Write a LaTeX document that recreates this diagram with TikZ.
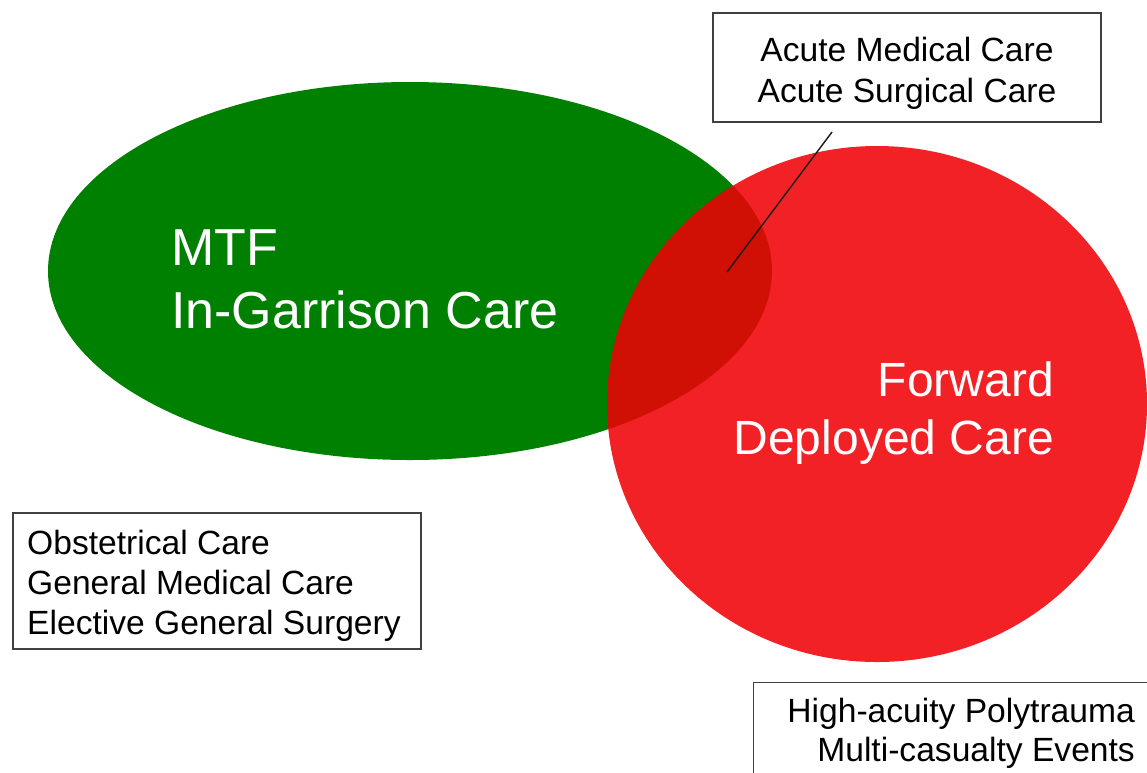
\documentclass[tikz,border=0pt]{standalone}
\usepackage{fontspec}
\setmainfont{Liberation Sans}
\usetikzlibrary{shapes.geometric}
\definecolor{mtfgreen}{RGB}{0,128,0}
\definecolor{fwdred}{RGB}{240,0,6}
\begin{document}
\begin{tikzpicture}[x=1pt,y=-1pt,
  region/.style={ellipse, inner sep=0pt, draw=none},
  bigtext/.style={text=white, inner sep=0pt},
  frame/.style={draw=black!75, line width=1.3pt, fill=white, inner sep=0pt},
  smalltext/.style={text=black, font=\fontsize{33.6}{40}\selectfont, inner sep=0pt},
  pointer/.style={draw=black!90, line width=1.4pt},
]
\useasboundingbox (0,0) rectangle (1147,772);
\clip (0,0) rectangle (1147,772);

% the two overlapping care regions
\node[region, fill=mtfgreen, minimum width=724pt, minimum height=378pt] (mtf) at (410,271) {};
\node[region, fill=fwdred, fill opacity=0.87, minimum width=540pt, minimum height=516pt] (fwd) at (877,404) {};

% region titles (anchor base = baseline of the last line)
\node[bigtext, font=\fontsize{52}{63}\selectfont, anchor=base west, align=left] (mtflabel) at (171,328) {MTF\\In-Garrison Care};
\node[bigtext, font=\fontsize{48}{58}\selectfont, anchor=base east, align=right] (fwdlabel) at (1054,454) {Forward\\Deployed Care};

% overlap callout
\node[frame, minimum width=388pt, minimum height=109pt] (acutebox) at (907,67.5) {};
\node[smalltext, font=\fontsize{33.6}{41}\selectfont, anchor=base, align=center] (acutetext) at (907,102) {Acute Medical Care\\Acute Surgical Care};
\coordinate (acutefoot) at (832,132);
\coordinate (overlap) at (727,272);
\draw[pointer] (acutefoot) -- (overlap);

% in-garrison callout
\node[frame, minimum width=408pt, minimum height=136pt] (garrisonbox) at (217,581) {};
\node[smalltext, anchor=base west, align=left] (garrisontext) at (27,634) {Obstetrical Care\\General Medical Care\\Elective General Surgery};

% forward deployed callout
\node[frame, anchor=north west, minimum width=430pt, minimum height=130pt] (forwardbox) at (753,682) {};
\node[smalltext, font=\fontsize{33.6}{39}\selectfont, anchor=base east, align=right] (forwardtext) at (1135,761) {High-acuity Polytrauma\\Multi-casualty Events};
\end{tikzpicture}
\end{document}
